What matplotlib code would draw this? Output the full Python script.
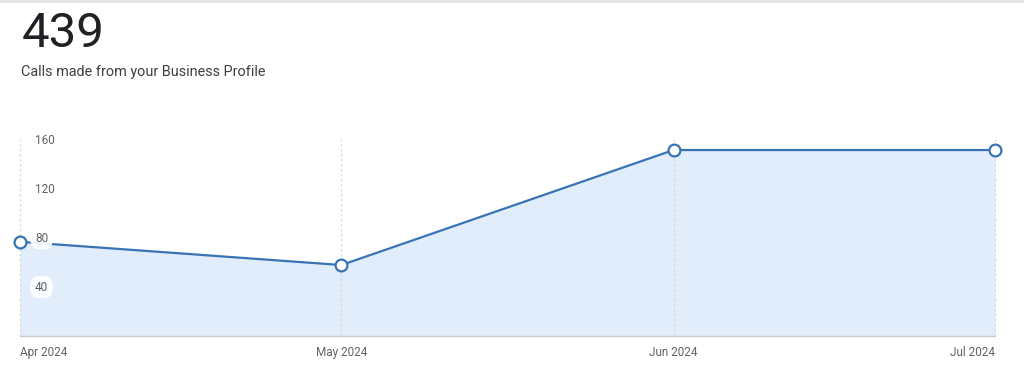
import datetime as dt
import matplotlib.pyplot as plt
import matplotlib.dates as mdates

plt.rcParams['font.family'] = ['Roboto', 'DejaVu Sans']

# data
months = [dt.date(2024, 4, 1), dt.date(2024, 5, 1), dt.date(2024, 6, 1), dt.date(2024, 7, 1)]
month_labels = ["Apr 2024", "May 2024", "Jun 2024", "Jul 2024"]
calls = [77, 58, 152, 152]
y_ticks = [40, 80, 120, 160]
total_calls = "439"
subtitle = "Calls made from your Business Profile"

line_color = "#3874b4"
fill_color = "#e2edfb"

W, H = 1024, 366
fig = plt.figure(figsize=(W / 100, H / 100), dpi=100)
fig.patch.set_facecolor("white")

# axes placed in pixel coordinates
left_px, right_px, bottom_px, top_px = 20, 995, 336, 128
ax = fig.add_axes([left_px / W, 1 - bottom_px / H,
                   (right_px - left_px) / W, (bottom_px - top_px) / H])
ax.set_facecolor("white")

x = mdates.date2num(months)
ax.fill_between(x, calls, 0, color=fill_color, lw=0, zorder=1)
ax.plot(x, calls, color=line_color, lw=1.6, zorder=3, clip_on=False)
ax.plot(x, calls, "o", ms=8.5, mfc="white", mec=line_color, mew=1.6,
        zorder=4, clip_on=False)

ax.set_xlim(x[0], x[-1])
ax.set_ylim(0, 170)

# vertical dotted gridlines at each month
for xi in x:
    ax.plot([xi, xi], [0, 161], color="#d6d9de", lw=0.9, ls=(0, (2, 2)),
            zorder=2, clip_on=False)

for s in ["top", "right", "left"]:
    ax.spines[s].set_visible(False)
ax.spines["bottom"].set_color("#c8cbd0")
ax.spines["bottom"].set_linewidth(1)
ax.set_xticks([])
ax.set_yticks([])

# y tick labels inside the plot
for v in y_ticks:
    ax.text(x[0] + 1.4, v, str(v), fontsize=8.5, color="#5f6368", va="center",
            ha="left", zorder=5,
            bbox=dict(boxstyle="round,pad=0.4,rounding_size=0.8",
                      fc="white", ec="none", alpha=0.9 if v < 100 else 0))

# x labels
aligns = ["left", "center", "center", "right"]
for xi, lab, ha in zip(x, month_labels, aligns):
    ax.text(xi, -8, lab, fontsize=8.5, color="#5f6368", ha=ha, va="top",
            transform=ax.transData, clip_on=False)

# header text
fig.text(22 / W, 1 - 47 / H, total_calls, fontsize=35.5, color="#202124",
         ha="left", va="baseline")
fig.text(21 / W, 1 - 76 / H, subtitle, fontsize=10.4, color="#3c4043",
         ha="left", va="baseline")

# faint line at top edge
fig.add_artist(plt.Line2D([0, 1], [1 - 1 / H, 1 - 1 / H], color="#e4e4e4",
                          lw=2, transform=fig.transFigure))

fig.savefig("out.png", dpi=100, facecolor="white")
